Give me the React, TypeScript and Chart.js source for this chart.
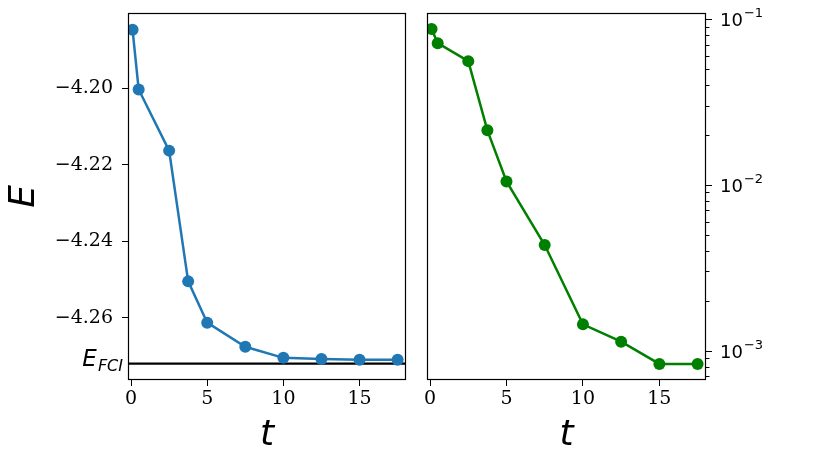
import React, { useEffect, useRef } from "react";
import { Chart, registerables } from "chart.js";

Chart.register(...registerables);

// ---- data ----
const tValues = [0.1, 0.5, 2.5, 3.75, 5, 7.5, 10, 12.5, 15, 17.5];
const energy = [-4.1847, -4.2003, -4.2163, -4.2505, -4.2613, -4.2676, -4.2705, -4.2708, -4.271, -4.271];
const deltaE = [0.087, 0.0715, 0.0557, 0.0213, 0.01047, 0.00433, 0.001438, 0.00113, 0.00083, 0.00083];
const eFci = -4.272;
const xTickValues = [0, 5, 10, 15];
const eTickValues = [-4.2, -4.22, -4.24, -4.26];
const logMajorExponents = [-3, -2, -1];
const xRange = [-0.2, 18.05];
const eRange = [-4.2763, -4.1803];
const dRange = [0.000664, 0.1087];

const SERIF = "'DejaVu Serif', serif";
const SANS = "'DejaVu Sans', sans-serif";

const framePlugin = {
  id: "frame",
  afterDatasetsDraw(chart: any) {
    const { ctx, chartArea: a } = chart;
    ctx.save();
    ctx.strokeStyle = "#000";
    ctx.lineWidth = 1.2;
    ctx.strokeRect(Math.round(a.left) + 0.5, Math.round(a.top) + 0.5, Math.round(a.right - a.left) - 1, Math.round(a.bottom - a.top) - 1);
    ctx.restore();
  },
};

const leftTextPlugin = {
  id: "leftText",
  afterDraw(chart: any) {
    const { ctx, chartArea: a } = chart;
    ctx.save();
    ctx.fillStyle = "#000";
    // y title
    ctx.save();
    ctx.translate(25, (a.top + a.bottom) / 2);
    ctx.rotate(-Math.PI / 2);
    ctx.font = `italic 36px ${SANS}`;
    ctx.textAlign = "center";
    ctx.textBaseline = "middle";
    ctx.fillText("E", 0, 0);
    ctx.restore();
    // x title
    ctx.font = `italic 36px ${SANS}`;
    ctx.textAlign = "center";
    ctx.textBaseline = "alphabetic";
    ctx.fillText("t", (a.left + a.right) / 2, 445);
    // E_FCI label
    const py = chart.scales.y.getPixelForValue(eFci);
    ctx.font = `italic 16px ${SANS}`;
    const wSub = ctx.measureText("FCI").width;
    const right = a.left - 5;
    ctx.textAlign = "left";
    ctx.fillText("FCI", right - wSub, py + 7);
    ctx.font = `italic 23px ${SANS}`;
    ctx.textAlign = "right";
    ctx.fillText("E", right - wSub - 1, py + 2.5);
    ctx.restore();
  },
};

const rightAxisPlugin = {
  id: "rightAxis",
  afterDraw(chart: any) {
    const { ctx, chartArea: a } = chart;
    const yS = chart.scales.y;
    ctx.save();
    ctx.strokeStyle = "#000";
    ctx.lineWidth = 1;
    for (let k = -4; k <= 0; k++) {
      for (let m = 1; m <= 9; m++) {
        const v = m * Math.pow(10, k);
        if (v < dRange[0] || v > dRange[1]) continue;
        const py = Math.round(yS.getPixelForValue(v)) + 0.5;
        const len = m === 1 ? 6 : 3.5;
        ctx.beginPath();
        ctx.moveTo(a.right, py);
        ctx.lineTo(a.right + len, py);
        ctx.stroke();
      }
    }
    ctx.fillStyle = "#000";
    ctx.textBaseline = "alphabetic";
    ctx.textAlign = "left";
    for (const e of logMajorExponents) {
      const py = yS.getPixelForValue(Math.pow(10, e));
      const x0 = a.right + 14;
      ctx.font = `18px ${SANS}`;
      ctx.fillText("10", x0, py + 7.3);
      const w = ctx.measureText("10").width;
      ctx.font = `13px ${SANS}`;
      ctx.fillText("\u2212" + String(Math.abs(e)), x0 + w + 1, py - 1.7);
    }
    // y title (rotated)
    ctx.save();
    ctx.translate(796, (a.top + a.bottom) / 2 + 1);
    ctx.rotate(-Math.PI / 2);
    ctx.font = `italic 36px ${SANS}`;
    ctx.textAlign = "center";
    ctx.textBaseline = "middle";
    ctx.fillText("\u0394E", 0, 0);
    ctx.restore();
    // x title
    ctx.font = `italic 36px ${SANS}`;
    ctx.textAlign = "center";
    ctx.textBaseline = "alphabetic";
    ctx.fillText("t", (a.left + a.right) / 2, 445);
    ctx.restore();
  },
};

function xScale() {
  return {
    type: "linear",
    min: xRange[0],
    max: xRange[1],
    afterBuildTicks: (axis: any) => {
      axis.ticks = xTickValues.map((v) => ({ value: v }));
    },
    afterFit: (s: any) => {
      s.height = 86;
      s.paddingLeft = 0;
      s.paddingRight = 0;
    },
    grid: { display: true, drawOnChartArea: false, drawTicks: true, tickLength: 6, color: "#000", lineWidth: 1 },
    border: { display: false },
    ticks: { font: { family: SERIF, size: 19 }, color: "#000", padding: 2, maxRotation: 0, autoSkip: false },
  };
}

export default function App() {
  const leftRef = useRef<HTMLCanvasElement>(null);
  const rightRef = useRef<HTMLCanvasElement>(null);

  useEffect(() => {
    const left = new Chart(leftRef.current as HTMLCanvasElement, {
      type: "line",
      data: {
        datasets: [
          {
            data: tValues.map((t, i) => ({ x: t, y: energy[i] })),
            borderColor: "#1f77b4",
            backgroundColor: "#1f77b4",
            borderWidth: 2.5,
            pointRadius: 6,
            pointBorderWidth: 0,
            pointHoverRadius: 6,
            tension: 0,
          },
          {
            data: [
              { x: xRange[0], y: eFci },
              { x: xRange[1], y: eFci },
            ],
            borderColor: "#000",
            borderWidth: 2.2,
            pointRadius: 0,
            tension: 0,
          },
        ],
      },
      options: {
        responsive: false,
        devicePixelRatio: 1,
        animation: false,
        layout: { padding: { left: 0, right: 14, top: 13, bottom: 0 } },
        plugins: { legend: { display: false }, tooltip: { enabled: false } },
        scales: {
          x: xScale() as any,
          y: {
            type: "linear",
            min: eRange[0],
            max: eRange[1],
            afterBuildTicks: (axis: any) => {
              axis.ticks = eTickValues.map((v) => ({ value: v }));
            },
            afterFit: (s: any) => {
              s.width = 128;
              s.paddingTop = 0;
              s.paddingBottom = 0;
            },
            grid: { display: true, drawOnChartArea: false, drawTicks: true, tickLength: 6, color: "#000", lineWidth: 1 },
            border: { display: false },
            ticks: {
              font: { family: SERIF, size: 19 },
              color: "#000",
              padding: 9,
              callback: (v: any) => "\u2212" + Math.abs(Number(v)).toFixed(2),
            },
          },
        },
      },
      plugins: [framePlugin, leftTextPlugin],
    } as any);

    const right = new Chart(rightRef.current as HTMLCanvasElement, {
      type: "line",
      data: {
        datasets: [
          {
            data: tValues.map((t, i) => ({ x: t, y: deltaE[i] })),
            borderColor: "#008000",
            backgroundColor: "#008000",
            borderWidth: 2.5,
            pointRadius: 6,
            pointBorderWidth: 0,
            pointHoverRadius: 6,
            tension: 0,
          },
        ],
      },
      options: {
        responsive: false,
        devicePixelRatio: 1,
        animation: false,
        layout: { padding: { left: 7, right: 0, top: 13, bottom: 0 } },
        plugins: { legend: { display: false }, tooltip: { enabled: false } },
        scales: {
          x: xScale() as any,
          y: {
            type: "logarithmic",
            position: "right",
            min: dRange[0],
            max: dRange[1],
            afterFit: (s: any) => {
              s.width = 125;
              s.paddingTop = 0;
              s.paddingBottom = 0;
            },
            grid: { display: false },
            border: { display: false },
            ticks: { display: false },
          },
        },
      },
      plugins: [framePlugin, rightAxisPlugin],
    } as any);

    return () => {
      left.destroy();
      right.destroy();
    };
  }, []);

  return (
    <div style={{ position: "absolute", left: 0, top: 0, width: 831, height: 466, background: "#fff" }}>
      <canvas ref={leftRef} width={420} height={466} style={{ position: "absolute", left: 0, top: 0, display: "block" }} />
      <canvas ref={rightRef} width={411} height={466} style={{ position: "absolute", left: 420, top: 0, display: "block" }} />
    </div>
  );
}
